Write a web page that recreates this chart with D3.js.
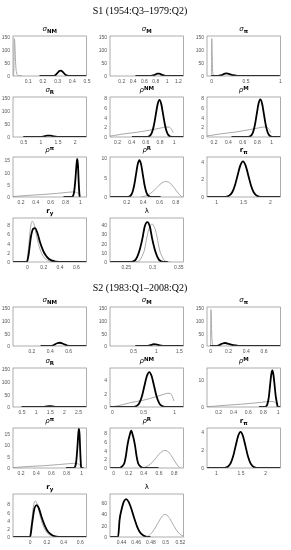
<!DOCTYPE html>
<html>
<head>
<meta charset="utf-8">
<script src="https://cdn.jsdelivr.net/npm/d3@7"></script>
<style>
	body { margin: 0; background: #fff; }
	svg { display: block; will-change: transform; }
</style>
</head>
<body>
<script>

// ---- data: [x, density] ----

// shared priors (grey)
var prior_rho  = [[0,0],[0.15,0.3],[0.3,0.65],[0.5,1.0],[0.7,1.5],[0.82,1.85],[0.9,2.05],[0.94,2.0],[0.97,1.6],[0.995,0.9]];
var prior_rhoR = [[0.38,0],[0.45,0.4],[0.5,1.0],[0.55,1.9],[0.6,3.0],[0.65,3.8],[0.68,4.0],[0.72,3.8],[0.77,2.8],[0.82,1.4],[0.86,0.4],[0.89,0]];
var prior_ry   = [[0,0],[0.02,3],[0.045,7.5],[0.065,8.8],[0.09,8.0],[0.12,5.5],[0.16,2.8],[0.2,1.2],[0.25,0.4],[0.3,0.1],[0.35,0]];
var prior_sig  = [[0.003,0],[0.006,30],[0.009,145],[0.012,130],[0.016,70],[0.021,25],[0.028,6],[0.04,1],[0.06,0]];

// S1 posteriors (black)
var s1_sigNM = [[0.18,0],[0.27,0],[0.285,2],[0.3,10],[0.315,19],[0.325,21],[0.34,15],[0.355,6],[0.37,1.5],[0.39,0],[0.5,0]];
var s1_sigM  = [[0.45,0],[0.72,0],[0.78,3],[0.84,9],[0.87,9],[0.92,4],[0.98,0.5],[1.02,0],[1.3,0]];
var s1_sigPi = [[0,0],[0.1,0],[0.15,3],[0.2,9],[0.23,10],[0.27,7],[0.32,3],[0.38,0.8],[0.45,0],[1,0]];
var s1_sigR  = [[0.5,0],[1.0,0],[1.1,2],[1.2,5],[1.3,5],[1.4,2],[1.5,0.5],[1.6,0],[2.35,0]];
var s1_rhoNM = [[0.41,0],[0.62,0],[0.644,0.08],[0.67,0.33],[0.696,1.03],[0.722,2.47],[0.748,4.6],[0.774,6.7],[0.8,7.6],[0.826,6.7],[0.852,4.6],[0.878,2.47],[0.904,1.03],[0.93,0.33],[0.956,0.08],[0.98,0],[1.14,0]];
var s1_rhoM  = [[0.45,0],[0.68,0],[0.7,0.09],[0.725,0.34],[0.75,1.04],[0.775,2.5],[0.8,4.67],[0.825,6.8],[0.85,7.7],[0.875,6.8],[0.9,4.67],[0.925,2.5],[0.95,1.04],[0.975,0.34],[1.0,0.09],[1.03,0],[1.13,0]];
var s1_rhoPi = [[0.78,0],[0.89,0],[0.91,0.5],[0.925,2.5],[0.94,7],[0.955,13],[0.965,15.5],[0.975,13],[0.985,6],[0.995,1],[1.0,0]];
var s1_rhoR  = [[0,0],[0.22,0],[0.234,0.1],[0.255,0.42],[0.276,1.29],[0.297,3.08],[0.318,5.76],[0.339,8.4],[0.36,9.5],[0.381,8.4],[0.402,5.76],[0.423,3.08],[0.444,1.29],[0.465,0.42],[0.486,0.1],[0.51,0],[0.62,0]];
var s1_rPi   = [[0.83,0],[1.15,0],[1.2,0.04],[1.25,0.18],[1.3,0.54],[1.35,1.3],[1.4,2.43],[1.45,3.53],[1.5,4.0],[1.55,3.53],[1.6,2.43],[1.65,1.3],[1.7,0.54],[1.75,0.18],[1.8,0.04],[1.85,0],[2.2,0]];
var s1_ry    = [[-0.17,0],[0,0],[0.02,1.5],[0.05,5.5],[0.08,7.2],[0.1,7.3],[0.13,6.2],[0.16,4.3],[0.2,2.4],[0.25,1.0],[0.3,0.35],[0.36,0.08],[0.42,0],[0.73,0]];
var s1_lam   = [[0.22,0],[0.26,0],[0.263,0.48],[0.268,1.9],[0.272,5.8],[0.277,14],[0.282,26],[0.286,38],[0.291,43],[0.296,38],[0.3,26],[0.305,14],[0.31,5.8],[0.314,1.9],[0.319,0.48],[0.325,0],[0.33,0]];
var s1_lamPrior = [[0.265,0],[0.272,0.5],[0.277,2],[0.281,6],[0.286,14],[0.29,26],[0.295,37],[0.3,41],[0.305,37],[0.31,26],[0.314,14],[0.319,6],[0.323,2],[0.328,0.5],[0.335,0]];

// S2 posteriors (black)
var s2_sigNM = [[0.3,0],[0.4,0],[0.44,3],[0.48,11],[0.51,13],[0.55,8],[0.59,2],[0.63,0],[0.8,0]];
var s2_sigM  = [[0.55,0],[0.8,0],[0.88,3],[0.95,7],[1.0,6.5],[1.08,2.5],[1.15,0.5],[1.22,0],[1.6,0]];
var s2_sigPi = [[0,0],[0.07,0],[0.1,3],[0.14,10],[0.17,12],[0.21,8],[0.26,3],[0.32,0.6],[0.38,0],[0.79,0]];
var s2_sigR  = [[0.5,0],[1.2,0],[1.35,1.5],[1.5,3],[1.65,1.5],[1.8,0],[2.8,0]];
var s2_rhoNM = [[-0.03,0],[0.35,0],[0.37,0.06],[0.41,0.23],[0.446,0.7],[0.485,1.69],[0.523,3.15],[0.562,4.6],[0.6,5.2],[0.638,4.6],[0.677,3.15],[0.715,1.69],[0.754,0.7],[0.79,0.23],[0.83,0.06],[0.86,0],[1.15,0]];
var s2_rhoM  = [[0.75,0],[0.83,0],[0.841,0.15],[0.856,0.59],[0.871,1.83],[0.886,4.4],[0.9,8.2],[0.915,11.9],[0.93,13.5],[0.945,11.9],[0.96,8.2],[0.974,4.4],[0.989,1.83],[0.998,0.5],[1.0,0],[1.04,0]];
var s2_rhoPi = [[0.8,0],[0.9,0],[0.92,0.6],[0.935,3],[0.95,9],[0.962,15],[0.97,17.3],[0.978,15],[0.988,7],[0.995,2],[1.0,0],[1.03,0]];
var s2_rhoR  = [[-0.04,0],[0.09,0],[0.1,0.09],[0.12,0.37],[0.15,1.15],[0.17,2.76],[0.19,5.16],[0.22,7.5],[0.24,8.5],[0.26,7.5],[0.29,5.16],[0.31,2.76],[0.33,1.15],[0.36,0.37],[0.38,0.09],[0.4,0],[0.6,0]];
var s2_rPi   = [[0.82,0],[1.15,0],[1.2,0.04],[1.25,0.18],[1.3,0.54],[1.35,1.3],[1.4,2.43],[1.45,3.53],[1.5,4.0],[1.55,3.53],[1.6,2.43],[1.65,1.3],[1.7,0.54],[1.75,0.18],[1.8,0.04],[1.85,0],[2.31,0]];
var s2_ry    = [[-0.2,0],[0.005,0],[0.03,3.5],[0.06,7.2],[0.085,7.8],[0.11,7.0],[0.14,5.0],[0.18,2.8],[0.22,1.3],[0.27,0.45],[0.32,0.1],[0.38,0],[0.68,0]];
var s2_lam   = [[0.425,0],[0.436,0],[0.438,30],[0.441,50],[0.444,63],[0.447,67],[0.45,63],[0.454,50],[0.458,33],[0.462,18],[0.466,8],[0.47,3],[0.474,0.5],[0.478,0],[0.48,0]];
var s2_lamPrior = [[0.47,0],[0.475,0.7],[0.48,5],[0.485,13],[0.49,24],[0.495,35],[0.5,40],[0.505,35],[0.51,24],[0.515,13],[0.52,5],[0.525,1.7]];

// tick values
var yt_sig = [0, 50, 100, 150];

// ---- layout ----
var width = 291, height = 550;
var colX = [13, 110, 207], boxW = 73.5;
var rows = [[36,76],[97,137],[157,197],[218,262],[307,346],[368,407],[428,468],[494,537]];

var FONT = "'Liberation Sans', Arial, sans-serif";

// panels: title parts, axis limits, ticks, curves
var panels = [
	{r:0, c:0, t:["σ","NM","sub"], x:[0,0.5],     y:[0,155], xt:[0.1,0.2,0.3,0.4,0.5], yt:yt_sig, post:s1_sigNM, prior:prior_sig},
	{r:0, c:1, t:["σ","M","sub"],  x:[0,1.3],     y:[0,155], xt:[0.2,0.4,0.6,0.8,1,1.2], yt:yt_sig, post:s1_sigM},
	{r:0, c:2, t:["σ","π","sub"],  x:[-0.06,1.01],y:[0,155], xt:[0,0.5,1], yt:yt_sig, post:s1_sigPi, prior:prior_sig},
	{r:1, c:0, t:["σ","R","sub"],  x:[0.2,2.35],  y:[0,155], xt:[0.5,1,1.5,2], yt:yt_sig, post:s1_sigR},
	{r:1, c:1, t:["ρ","NM","sup"], x:[0.1,1.14],  y:[0,8.2], xt:[0.2,0.4,0.6,0.8,1], yt:[0,2,4,6,8], post:s1_rhoNM, prior:prior_rho},
	{r:1, c:2, t:["ρ","M","sup"],  x:[0.11,1.13], y:[0,8.2], xt:[0.2,0.4,0.6,0.8,1], yt:[0,2,4,6,8], post:s1_rhoM, prior:prior_rho},
	{r:2, c:0, t:["ρ","π","sup"],  x:[0.1,1.09],  y:[0,16.3],xt:[0.2,0.4,0.6,0.8,1], yt:[0,5,10,15], post:s1_rhoPi, prior:prior_rho},
	{r:2, c:1, t:["ρ","R","sup"],  x:[0,0.9],     y:[0,10.3],xt:[0.2,0.4,0.6,0.8], yt:[0,5,10], post:s1_rhoR, prior:prior_rhoR},
	{r:2, c:2, t:["r","π","subr"], x:[0.83,2.2],  y:[0,4.5], xt:[1,1.5,2], yt:[0,2,4], post:s1_rPi},
	{r:3, c:0, t:["r","y","subr"], x:[-0.17,0.73],y:[0,9.5], xt:[0,0.2,0.4,0.6], yt:[0,2,4,6,8], post:s1_ry, prior:prior_ry},
	{r:3, c:1, t:["λ","",""],      x:[0.22,0.36], y:[0,47.5],xt:[0.25,0.3,0.35], yt:[0,10,20,30,40], post:s1_lam, prior:s1_lamPrior},

	{r:4, c:0, t:["σ","NM","sub"], x:[0,0.8],     y:[0,155], xt:[0.2,0.4,0.6], yt:yt_sig, post:s2_sigNM},
	{r:4, c:1, t:["σ","M","sub"],  x:[0,1.6],     y:[0,155], xt:[0.5,1,1.5], yt:yt_sig, post:s2_sigM},
	{r:4, c:2, t:["σ","π","sub"],  x:[-0.035,0.79],y:[0,155],xt:[0,0.2,0.4,0.6], yt:yt_sig, post:s2_sigPi, prior:prior_sig},
	{r:5, c:0, t:["σ","R","sub"],  x:[0.2,2.8],   y:[0,155], xt:[0.5,1,1.5,2,2.5], yt:yt_sig, post:s2_sigR},
	{r:5, c:1, t:["ρ","NM","sup"], x:[-0.03,1.15],y:[0,5.8], xt:[0,0.5,1], yt:[0,2,4], post:s2_rhoNM, prior:prior_rho},
	{r:5, c:2, t:["ρ","M","sup"],  x:[0.05,1.04], y:[0,14.4],xt:[0.2,0.4,0.6,0.8,1], yt:[0,10], post:s2_rhoM, prior:prior_rho},
	{r:6, c:0, t:["ρ","π","sup"],  x:[0.1,1.07],  y:[0,17.6],xt:[0.2,0.4,0.6,0.8,1], yt:[0,5,10,15], post:s2_rhoPi, prior:prior_rho},
	{r:6, c:1, t:["ρ","R","sup"],  x:[-0.04,0.93],y:[0,9.1], xt:[0,0.2,0.4,0.6,0.8], yt:[0,2,4,6,8], post:s2_rhoR, prior:prior_rhoR},
	{r:6, c:2, t:["r","π","subr"], x:[0.82,2.31], y:[0,4.44],xt:[1,1.5,2], yt:[0,2,4], post:s2_rPi},
	{r:7, c:0, t:["r","y","subr"], x:[-0.2,0.68], y:[0,10.5],xt:[0,0.2,0.4,0.6], yt:[0,2,4,6,8], post:s2_ry, prior:prior_ry},
	{r:7, c:1, t:["λ","",""],      x:[0.425,0.525],y:[0,76], xt:[0.44,0.46,0.48,0.5,0.52], yt:[0,20,40,60], post:s2_lam, prior:s2_lamPrior}
];

var svg = d3.select("body").append("svg")
	.attr("width", width)
	.attr("height", height);

// section titles
var sections = [["S1 (1954:Q3\u20131979:Q2)", 14], ["S2 (1983:Q1\u20132008:Q2)", 291]];
svg.selectAll("text.section")
	.data(sections)
	.enter().append("text")
	.attr("class", "section")
	.attr("x", 140)
	.attr("y", function(d) { return d[1]; })
	.attr("text-anchor", "middle")
	.style("font-family", "'Liberation Serif', 'Times New Roman', serif")
	.style("font-size", "10px")
	.text(function(d) { return d[0]; });

var defs = svg.append("defs");

panels.forEach(function(p, i) {
	var x0 = colX[p.c], top = rows[p.r][0], bottom = rows[p.r][1];

	var x = d3.scaleLinear().domain(p.x).range([x0, x0 + boxW]);
	var y = d3.scaleLinear().domain(p.y).range([bottom, top]);

	var g = svg.append("g");

	defs.append("clipPath").attr("id", "clip" + i)
		.append("rect")
		.attr("x", x0).attr("y", top - 1)
		.attr("width", boxW).attr("height", bottom - top + 1);

	// axis tick labels
	var xa = g.append("g")
		.attr("transform", "translate(0," + bottom + ")")
		.call(d3.axisBottom(x).tickValues(p.xt).tickSize(0).tickPadding(3).tickFormat(d3.format("~g")));
	var ya = g.append("g")
		.attr("transform", "translate(" + x0 + ",0)")
		.call(d3.axisLeft(y).tickValues(p.yt).tickSize(0).tickPadding(3).tickFormat(d3.format("~g")));
	[xa, ya].forEach(function(a) {
		a.select(".domain").remove();
		a.selectAll("text")
			.style("font-family", FONT)
			.style("font-size", "5px")
			.attr("fill", "#555");
	});

	var line = d3.line()
		.x(function(d) { return x(d[0]); })
		.y(function(d) { return y(d[1]); })
		.curve(d3.curveMonotoneX);

	var plot = g.append("g").attr("clip-path", "url(#clip" + i + ")");

	if (p.prior) {
		plot.append("path")
			.datum(p.prior)
			.attr("fill", "none")
			.attr("stroke", "#a8a8a8")
			.attr("stroke-width", 1)
			.attr("d", line);
	}
	plot.append("path")
		.datum(p.post)
		.attr("fill", "none")
		.attr("stroke", "#000")
		.attr("stroke-width", 1.8)
		.attr("stroke-linejoin", "round")
		.attr("d", line);

	// frame
	g.append("rect")
		.attr("x", x0).attr("y", top)
		.attr("width", boxW).attr("height", bottom - top)
		.attr("fill", "none")
		.attr("stroke", "#8a8a8a")
		.attr("stroke-width", 0.7);

	// title with sub/superscript
	var title = g.append("text")
		.attr("x", x0 + boxW / 2)
		.attr("y", top - 5)
		.attr("text-anchor", "middle")
		.attr("fill", "#000")
		.style("font-family", "'DejaVu Sans', sans-serif")
		.style("font-size", "7px");
	title.append("tspan")
		.style("font-weight", p.t[2] == "subr" ? "bold" : "normal")
		.style("font-style", p.t[0] == "σ" || p.t[0] == "ρ" ? "italic" : "normal")
		.text(p.t[0]);
	if (p.t[1]) {
		title.append("tspan")
			.attr("dy", p.t[2] == "sup" ? -2.5 : 2)
			.style("font-size", "5.5px")
			.style("font-weight", "bold")
			.text(p.t[1]);
	}
});

</script>
</body>
</html>
